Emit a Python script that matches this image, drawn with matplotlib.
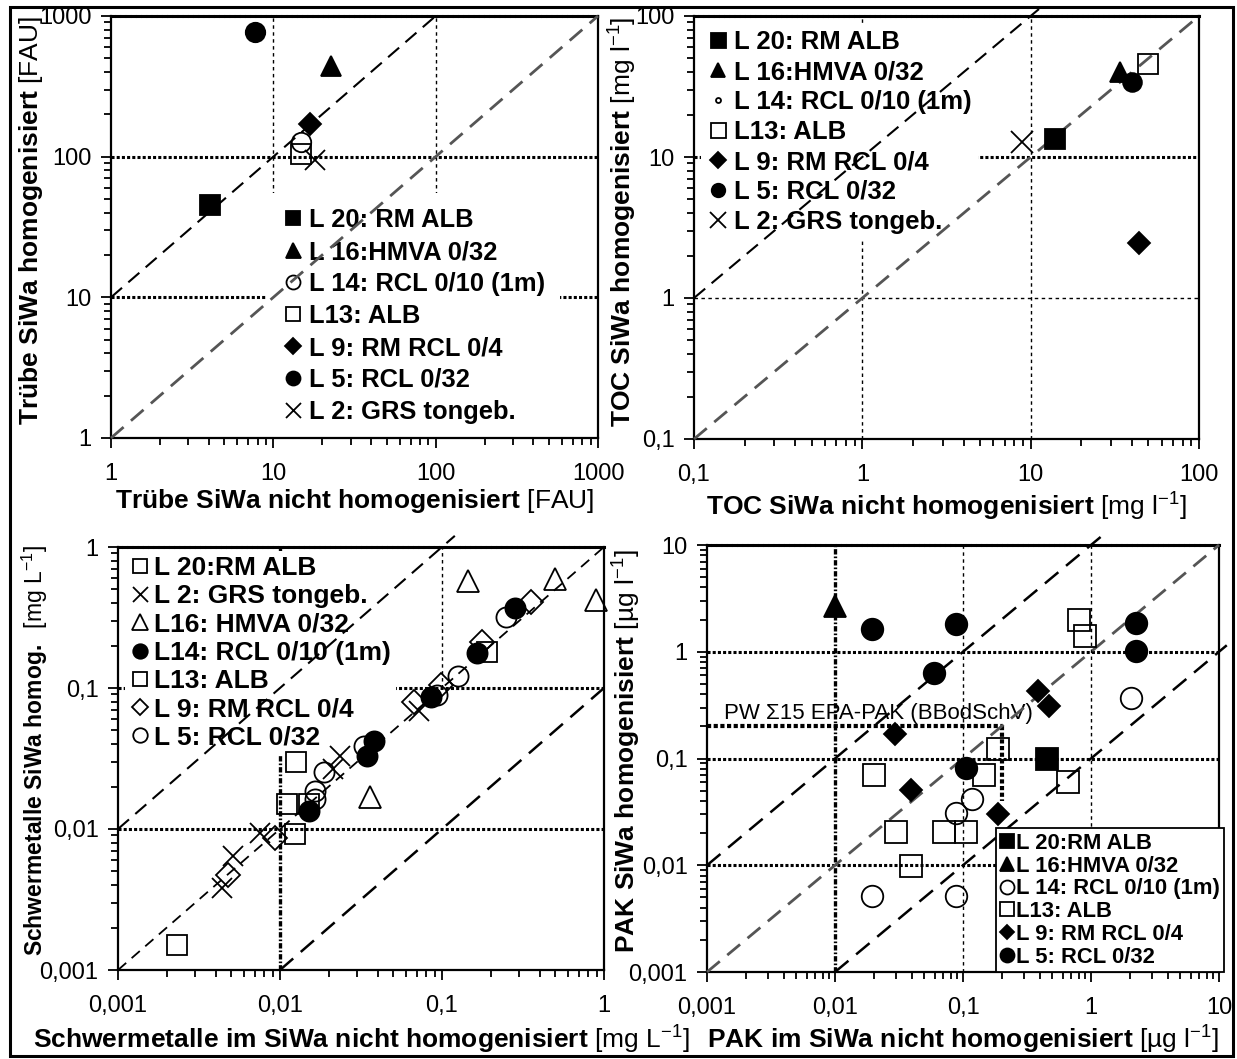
import numpy as np
import matplotlib
matplotlib.use("Agg")
import matplotlib.pyplot as plt
from matplotlib.ticker import FixedLocator, FuncFormatter, LogLocator, NullFormatter
from matplotlib.patches import Rectangle

plt.rcParams["font.family"] = "Liberation Sans"
plt.rcParams["mathtext.fontset"] = "custom"
plt.rcParams["mathtext.rm"] = "Liberation Sans"
plt.rcParams["mathtext.bf"] = "Liberation Sans:bold"
plt.rcParams["mathtext.it"] = "Liberation Sans:italic"
plt.rcParams["mathtext.default"] = "regular"

#------------------------------------------------
# Truebe [FAU]: nicht homogenisiert (x) / homogenisiert (y)
#------------------------------------------------
trb_l20_x, trb_l20_y = [4.1], [45]
trb_l16_x, trb_l16_y = [22.6], [440]
trb_l14_x, trb_l14_y = [14.8], [127]
trb_l13_x, trb_l13_y = [14.9], [104]
trb_l9_x, trb_l9_y = [16.8], [170]
trb_l5_x, trb_l5_y = [7.7], [770]
trb_l2_x, trb_l2_y = [18.0], [94]

#------------------------------------------------
# TOC [mg/l]
#------------------------------------------------
toc_l20_x, toc_l20_y = [14.0], [13.5]
toc_l16_x, toc_l16_y = [34], [40]
toc_l14_x, toc_l14_y = [], []
toc_l13_x, toc_l13_y = [50], [46]
toc_l9_x, toc_l9_y = [44], [2.45]
toc_l5_x, toc_l5_y = [40], [34]
toc_l2_x, toc_l2_y = [8.9], [12.8]

#------------------------------------------------
# Schwermetalle [mg/L]
#------------------------------------------------
sm_l20_x = [0.0023, 0.0125, 0.011]
sm_l20_y = [0.0015, 0.030, 0.015]
sm_l2_x = [0.00438, 0.00516, 0.00755, 0.0212, 0.0236, 0.0721]
sm_l2_y = [0.0038, 0.0064, 0.0094, 0.0266, 0.0327, 0.069]
sm_l16_x = [0.145, 0.497, 0.894, 0.0359]
sm_l16_y = [0.574, 0.59, 0.42, 0.0168]
sm_l14_x = [0.284, 0.164, 0.0853, 0.0379, 0.0344, 0.015]
sm_l14_y = [0.367, 0.178, 0.0865, 0.0423, 0.0331, 0.0134]
sm_l13_x = [0.0152, 0.0124, 0.19]
sm_l13_y = [0.015, 0.0092, 0.18]
sm_l9_x = [0.0048, 0.0093, 0.067, 0.098, 0.177, 0.355]
sm_l9_y = [0.0047, 0.0087, 0.0795, 0.105, 0.211, 0.41]
sm_l5_x = [0.247, 0.126, 0.0927, 0.0188, 0.0164, 0.0164, 0.0329]
sm_l5_y = [0.32, 0.121, 0.089, 0.0253, 0.0187, 0.0163, 0.039]

#------------------------------------------------
# PAK [ug/l]
#------------------------------------------------
pak_l20_x, pak_l20_y = [0.45], [0.1]
pak_l16_x, pak_l16_y = [0.01], [2.7]
pak_l14_x = [2.06, 0.118, 0.0875, 0.0194, 0.0875]
pak_l14_y = [0.37, 0.042, 0.031, 0.0052, 0.0052]
pak_l13_x = [0.81, 0.90, 0.189, 0.0201, 0.147, 0.0297, 0.0708, 0.106, 0.039, 0.664]
pak_l13_y = [1.99, 1.40, 0.122, 0.070, 0.070, 0.0206, 0.0206, 0.0206, 0.0098, 0.060]
pak_l9_x = [0.387, 0.47, 0.0292, 0.039, 0.189]
pak_l9_y = [0.43, 0.31, 0.17, 0.051, 0.03]
pak_l5_x = [0.0194, 0.0875, 0.059, 0.106, 2.25, 2.25]
pak_l5_y = [1.65, 1.82, 0.63, 0.081, 1.85, 1.02]

# Pruefwert Sigma15 EPA-PAK (BBodSchV) and lower end of its marker line
PW_PAK = 0.2
PW_PAK_LOW = 0.04

W, H = 1237, 1059
fig = plt.figure(figsize=(W / 100, H / 100), dpi=100)

LABEL_SIZE = 19
TICK_SIZE = 17

# line styles for reference lines
THIN = dict(color="black", lw=1.0, ls=(0, (2.5, 2.5)), zorder=1)
THICK = dict(color="black", lw=2.2, ls=(0, (1, 0.7)), zorder=1)
DASHDOT = dict(color="black", lw=2.4, ls=(0, (1.6, 0.6, 0.5, 0.6)), zorder=1)


def comma(v, pos):
    return ("%g" % v).replace(".", ",")


def panel(box, lo, hi):
    l, t, r, b = box
    ax = fig.add_axes([l / W, 1 - b / H, (r - l) / W, (b - t) / H])
    ax.set_xscale("log")
    ax.set_yscale("log")
    ax.set_xlim(lo, hi)
    ax.set_ylim(lo, hi)
    k0, k1 = int(round(np.log10(lo))), int(round(np.log10(hi)))
    decades = [10.0 ** k for k in range(k0, k1 + 1)]
    for axis in (ax.xaxis, ax.yaxis):
        axis.set_major_locator(FixedLocator(decades))
        axis.set_major_formatter(FuncFormatter(comma))
        axis.set_minor_locator(LogLocator(base=10, subs=np.arange(2, 10)))
        axis.set_minor_formatter(NullFormatter())
    ax.tick_params(which="both", direction="out", top=False, right=False,
                   width=1.3, labelsize=TICK_SIZE)
    ax.tick_params(which="major", length=7)
    ax.tick_params(which="minor", length=5)
    ax.tick_params(axis="x", pad=11)
    ax.tick_params(axis="y", pad=7)
    for s in ("left", "bottom", "right"):
        ax.spines[s].set_linewidth(1.6)
    ax.spines["top"].set_linewidth(2.2)
    ax.spines["top"].set_linestyle((0, (1, 0.7)))
    return ax


def fx(box, px):
    return (px - box[0]) / (box[2] - box[0])


def fy(box, py):
    return (box[3] - py) / (box[3] - box[1])


def labels(ax, box, xtext, ytext, xpos, ypos, ysize=LABEL_SIZE):
    ax.set_xlabel(xtext, fontsize=LABEL_SIZE, va="center")
    ax.xaxis.set_label_coords(fx(box, xpos[0]), fy(box, xpos[1]))
    ax.set_ylabel(ytext, fontsize=ysize, va="center")
    ax.yaxis.set_label_coords(fx(box, ypos[0]), fy(box, ypos[1]))


def series(ax, x, y, marker, filled, ms, label):
    ax.plot(x, y, ls="none", marker=marker, ms=ms,
            mfc="black" if filled else "none", mec="black", mew=1.3,
            label=label, zorder=5 if filled else 4, clip_on=False)


def diagonal(ax, factor, color, lw, dash, reach=1.0):
    lo, hi = ax.get_xlim()
    x0 = max(lo, lo / factor)
    x1 = min(hi, hi / factor) * reach
    ax.plot([x0, x1], [x0 * factor, x1 * factor], color=color, lw=lw,
            ls=(0, dash), zorder=3, clip_on=False)


def legend(ax, box, corner, size, spacing, pad, hl, htp, scale=0.72):
    leg = ax.legend(loc="upper left", bbox_to_anchor=(fx(box, corner[0]), fy(box, corner[1])),
                    prop={"weight": "bold", "size": size}, markerscale=scale,
                    handlelength=hl, handletextpad=htp, labelspacing=spacing,
                    borderpad=pad, borderaxespad=0, frameon=True, fancybox=False,
                    facecolor="white", edgecolor="none", framealpha=1)
    leg.set_zorder(2)
    return leg


BLACK_DASH = (7, 4)
GREY_DASH = (6, 3.5)

#================================================
# Truebe
#================================================
box1 = (111, 16, 598, 438)
ax1 = panel(box1, 1, 1000)
for v in (10, 100):
    ax1.axvline(v, **THIN)
    ax1.axhline(v, **THICK)
diagonal(ax1, 10, "black", 1.5, BLACK_DASH, reach=1.05)
diagonal(ax1, 1, "#555555", 2.0, GREY_DASH)
series(ax1, trb_l20_x, trb_l20_y, "s", True, 14.5, "L 20: RM ALB")
series(ax1, trb_l16_x, trb_l16_y, "^", True, 15, "L 16:HMVA 0/32")
series(ax1, trb_l14_x, trb_l14_y, "o", False, 14, "L 14: RCL 0/10 (1m)")
series(ax1, trb_l13_x, trb_l13_y, "s", False, 14.5, "L13: ALB")
series(ax1, trb_l9_x, trb_l9_y, "D", True, 11, "L 9: RM RCL 0/4")
series(ax1, trb_l5_x, trb_l5_y, "o", True, 14, "L 5: RCL 0/32")
series(ax1, trb_l2_x, trb_l2_y, "x", False, 15, "L 2: GRS tongeb.")
legend(ax1, box1, (267, 193), 18.4, 0.31, 0.6, 0.8, 0.23)
labels(ax1, box1,
       r"$\mathbf{Trübe\ SiWa\ nicht\ homogenisiert}$ [FAU]",
       r"$\mathbf{Trübe\ SiWa\ homogenisiert}$ [FAU]",
       ((111 + 598) / 2, 501), (31, 220))

#================================================
# TOC
#================================================
box2 = (694, 16, 1199, 439)
ax2 = panel(box2, 0.1, 100)
for v in (1, 10):
    ax2.axvline(v, **THIN)
ax2.axhline(1, **THIN)
ax2.axhline(10, **THICK)
diagonal(ax2, 10, "black", 1.5, BLACK_DASH, reach=1.17)
diagonal(ax2, 1, "#555555", 2.0, GREY_DASH)
series(ax2, toc_l20_x, toc_l20_y, "s", True, 15, "L 20: RM ALB")
series(ax2, toc_l16_x, toc_l16_y, "^", True, 14.5, "L 16:HMVA 0/32")
series(ax2, toc_l14_x, toc_l14_y, "o", False, 5, "L 14: RCL 0/10 (1m)")
series(ax2, toc_l13_x, toc_l13_y, "s", False, 15, "L13: ALB")
series(ax2, toc_l9_x, toc_l9_y, "D", True, 11, "L 9: RM RCL 0/4")
series(ax2, toc_l5_x, toc_l5_y, "o", True, 13.5, "L 5: RCL 0/32")
series(ax2, toc_l2_x, toc_l2_y, "x", False, 16.5, "L 2: GRS tongeb.")
legend(ax2, box2, (701, 24), 18.5, 0.23, 0.25, 0.8, 0.23)
labels(ax2, box2,
       r"$\mathbf{TOC\ SiWa\ nicht\ homogenisiert}$ [mg l$^{-1}$]",
       r"$\mathbf{TOC\ SiWa\ homogenisiert}$ [mg l$^{-1}$]",
       ((694 + 1199) / 2, 507), (623, 222))

#================================================
# Schwermetalle
#================================================
box3 = (118, 547, 604, 970)
ax3 = panel(box3, 0.001, 1)
ax3.axhline(0.01, **THICK)
ax3.axhline(0.1, **THICK)
ax3.axvline(0.01, **DASHDOT)
ax3.plot([0.1, 0.1], [0.1, ax3.get_ylim()[1]], **THIN)
diagonal(ax3, 10, "black", 1.5, BLACK_DASH, reach=1.2)
diagonal(ax3, 1, "black", 1.3, (6, 4))
diagonal(ax3, 0.1, "black", 1.8, BLACK_DASH)
series(ax3, sm_l20_x, sm_l20_y, "s", False, 14.5, "L 20:RM ALB")
series(ax3, sm_l2_x, sm_l2_y, "x", False, 15, "L 2: GRS tongeb.")
series(ax3, sm_l16_x, sm_l16_y, "^", False, 16, "L16: HMVA 0/32")
series(ax3, sm_l14_x, sm_l14_y, "o", True, 14.5, "L14: RCL 0/10 (1m)")
series(ax3, sm_l13_x, sm_l13_y, "s", False, 14.5, "L13: ALB")
series(ax3, sm_l9_x, sm_l9_y, "D", False, 12, "L 9: RM RCL 0/4")
series(ax3, sm_l5_x, sm_l5_y, "o", False, 14.5, "L 5: RCL 0/32")
legend(ax3, box3, (125, 551), 19, 0.16, 0.2, 0.7, 0.18)
labels(ax3, box3,
       r"$\mathbf{Schwermetalle\ im\ SiWa\ nicht\ homogenisiert}$ [mg L$^{-1}$]",
       r"$\mathbf{Schwermetalle\ SiWa\ homog.}$  [mg L$^{-1}$]",
       ((118 + 604) / 2, 1040), (35, 750), ysize=16.5)

#================================================
# PAK
#================================================
box4 = (707, 545, 1219, 972)
ax4 = panel(box4, 0.001, 10)
for v in (0.1, 1):
    ax4.axvline(v, **THIN)
ax4.axvline(0.01, **DASHDOT)
for v in (0.01, 0.1, 1):
    ax4.axhline(v, **THICK)
lo4 = ax4.get_xlim()[0]
ax4.plot([lo4, PW_PAK], [PW_PAK, PW_PAK], color="black", lw=3.0,
         ls=(0, (1, 0.6)), zorder=2)
ax4.plot([PW_PAK, PW_PAK], [PW_PAK, PW_PAK_LOW], color="black", lw=3.0,
         ls=(0, (1, 0.6)), zorder=2)
ax4.annotate("PW \u03a315 EPA-PAK (BBodSchV)", xy=(lo4, PW_PAK),
             xytext=(12, 2), textcoords="offset points", fontsize=16,
             ha="left", va="bottom", zorder=2)
diagonal(ax4, 10, "black", 1.8, BLACK_DASH, reach=1.22)
diagonal(ax4, 1, "#555555", 2.0, GREY_DASH)
diagonal(ax4, 0.1, "black", 1.8, BLACK_DASH, reach=1.15)
series(ax4, pak_l20_x, pak_l20_y, "s", True, 16, "L 20:RM ALB")
series(ax4, pak_l16_x, pak_l16_y, "^", True, 16, "L 16:HMVA 0/32")
series(ax4, pak_l14_x, pak_l14_y, "o", False, 15.5, "L 14: RCL 0/10 (1m)")
series(ax4, pak_l13_x, pak_l13_y, "s", False, 16, "L13: ALB")
series(ax4, pak_l9_x, pak_l9_y, "D", True, 11.5, "L 9: RM RCL 0/4")
series(ax4, pak_l5_x, pak_l5_y, "o", True, 15.5, "L 5: RCL 0/32")
leg4 = ax4.legend(loc="lower right", bbox_to_anchor=(fx(box4, 1224), 0),
                  prop={"weight": "bold", "size": 15.8}, markerscale=0.65,
                  handlelength=0.6, handletextpad=0.1, labelspacing=0.08,
                  borderpad=0.2, borderaxespad=0, frameon=True, fancybox=False,
                  facecolor="white", edgecolor="black", framealpha=1)
leg4.get_frame().set_linewidth(1.3)
leg4.set_zorder(6)
labels(ax4, box4,
       r"$\mathbf{PAK\ im\ SiWa\ nicht\ homogenisiert}$ [µg l$^{-1}$]",
       r"$\mathbf{PAK\ SiWa\ homogenisiert}$ [µg l$^{-1}$]",
       ((707 + 1219) / 2, 1040), (627, 751))

# outer frame round the whole figure
fig.patches.append(Rectangle((10 / W, 1 - 1056 / H), 1223 / W, 1049 / H,
                             transform=fig.transFigure, fill=False,
                             lw=2.2, ec="black"))

fig.savefig("out.png", dpi=100)
